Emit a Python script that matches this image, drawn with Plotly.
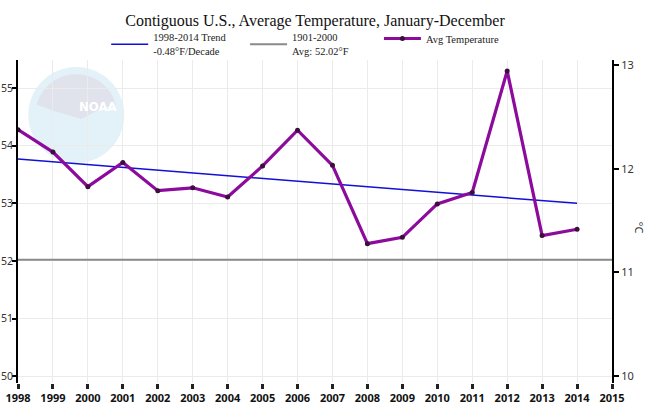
import plotly.graph_objects as go
import numpy as np

years = list(range(1998, 2015))
avg_temp_f = [54.28, 53.89, 53.29, 53.71, 53.22, 53.27, 53.11, 53.65, 54.27, 53.66,
              52.30, 52.41, 52.99, 53.19, 55.30, 52.44, 52.55]
trend_years = [1998, 2014]
trend_f = [53.77, 53.00]
base_years = [1998, 2015]
base_f = [52.02, 52.02]

x_ticks = list(range(1998, 2016))
yf_ticks = [50, 51, 52, 53, 54, 55]
yc_ticks = [10, 11, 12, 13]

YF_RANGE = [49.88, 55.49]
YC_RANGE = [(v - 32) / 1.8 for v in YF_RANGE]

# plot-area pixel geometry (for decorations only)
L, R, T, B = 17.7, 612.3, 60, 383
W, H = 663, 414

def px2paper(px, py):
    return (px - L) / (R - L), (B - py) / (B - T)

serif = "Liberation Serif"
sans = "Noto Sans"

fig = go.Figure()

fig.add_trace(go.Scatter(
    x=trend_years, y=trend_f, mode="lines", name="1998-2014 Trend<br>-0.48°F/Decade",
    line=dict(color="#1010d8", width=1.5), legend="legend"))
fig.add_trace(go.Scatter(
    x=base_years, y=base_f, mode="lines", name="1901-2000<br>Avg: 52.02°F",
    line=dict(color="#8a8a8a", width=2), legend="legend2"))
fig.add_trace(go.Scatter(
    x=years, y=avg_temp_f, mode="lines+markers", name="Avg Temperature",
    line=dict(color="#8c0a9c", width=3.2),
    marker=dict(color="#3a1038", size=5, line=dict(width=0)), legend="legend3"))
# invisible trace to activate the right (°C) axis
fig.add_trace(go.Scatter(x=[1998], y=[10], yaxis="y2", mode="markers",
                         marker=dict(opacity=0), showlegend=False, hoverinfo="skip"))

# NOAA watermark (approximate)
cx, cy, r = 76, 115, 48
ang = np.linspace(0, 2 * np.pi, 90)
pts = [px2paper(cx + r * np.cos(a), cy + r * np.sin(a)) for a in ang]
circle_path = "M " + " L ".join(f"{a:.4f},{b:.4f}" for a, b in pts) + " Z"
fig.add_shape(type="path", path=circle_path, xref="paper", yref="paper",
              fillcolor="#dcedf8", line=dict(width=0), layer="below", opacity=0.8)
# gray upper cap
cap_ang = np.linspace(np.pi * 1.08, np.pi * 1.92, 40)
cap = [px2paper(cx + r * 0.85 * np.cos(a), cy + r * 0.85 * np.sin(a)) for a in cap_ang]
cap += [px2paper(cx + 28, cy - 8), px2paper(cx + 5, cy + 4), px2paper(cx - 22, cy - 4)]
cap_path = "M " + " L ".join(f"{a:.4f},{b:.4f}" for a, b in cap) + " Z"
fig.add_shape(type="path", path=cap_path, xref="paper", yref="paper",
              fillcolor="#dedee8", line=dict(width=0), layer="below", opacity=0.8)
nx, ny = px2paper(77, 97)
fig.add_annotation(x=nx, y=ny, xref="paper", yref="paper", text="<b>NOAA</b>",
                   showarrow=False, font=dict(family="DejaVu Sans Condensed", size=13, color="white"))

# °C label
clx, cly = px2paper(650, 228)
fig.add_annotation(x=clx, y=cly, xref="paper", yref="paper", text="°C", textangle=90,
                   showarrow=False, font=dict(family=sans, size=11, color="#333"))

legend_common = dict(orientation="h", yanchor="top", xanchor="left",
                     font=dict(family=serif, size=10.5, color="#222"),
                     bgcolor="rgba(0,0,0,0)", itemwidth=37)

lg1 = px2paper(106, 0)[0]
lg2 = px2paper(245, 0)[0]
lg3 = px2paper(379, 0)[0]
ly = (B - 24) / (B - T)

fig.update_layout(
    width=W, height=H,
    margin=dict(l=L, r=W - R, t=T, b=H - B),
    paper_bgcolor="white", plot_bgcolor="white",
    title=dict(text="Contiguous U.S., Average Temperature, January-December",
               x=0.5, xref="paper", y=1 - 20 / H, yref="container", yanchor="middle",
               xanchor="center", font=dict(family=serif, size=16, color="#111")),
    legend=dict(x=lg1, y=ly, **legend_common),
    legend2=dict(x=lg2, y=ly, **legend_common),
    legend3=dict(x=lg3, y=ly, **legend_common),
    xaxis=dict(range=[1998, 2015], tickvals=x_ticks, ticktext=[str(v) for v in x_ticks],
               showgrid=True, gridcolor="#ebebeb", gridwidth=1, zeroline=False,
               showline=False, ticks="outside", ticklen=5, tickwidth=3, tickcolor="#222",
               automargin=False,
               tickfont=dict(family=sans, size=11, color="#111", weight="bold")),
    yaxis=dict(range=YF_RANGE, tickvals=yf_ticks, showgrid=True, gridcolor="#ebebeb",
               zeroline=False, showline=True, linecolor="black", linewidth=2,
               ticks="outside", ticklen=4, tickwidth=1.5, tickcolor="black",
               automargin=False, ticklabelstandoff=-3,
               tickfont=dict(family=sans, size=10.5, color="#333")),
    yaxis2=dict(range=YC_RANGE, tickvals=yc_ticks, overlaying="y", side="right",
                showgrid=False, zeroline=False, showline=True, linecolor="black",
                linewidth=2, ticks="outside", ticklen=5, tickwidth=1.5, tickcolor="black",
                automargin=False,
                tickfont=dict(family=sans, size=11, color="#333")),
)

fig.write_html("out.html")
